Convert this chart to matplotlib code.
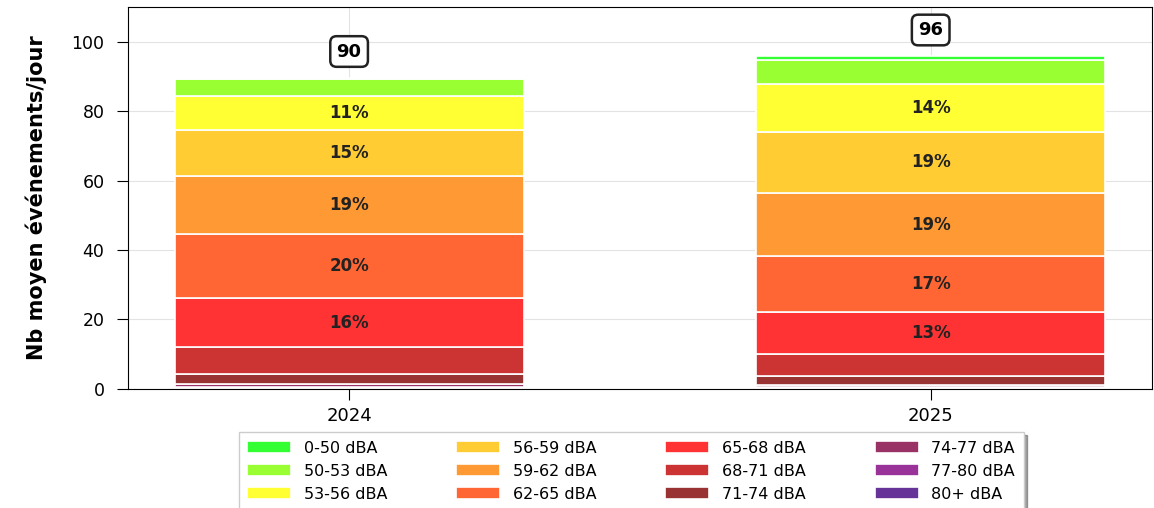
import matplotlib
matplotlib.use("Agg")
import matplotlib.pyplot as plt
import numpy as np

years = ["2024", "2025"]
classes = ["0-50 dBA", "50-53 dBA", "53-56 dBA", "56-59 dBA", "59-62 dBA", "62-65 dBA",
           "65-68 dBA", "68-71 dBA", "71-74 dBA", "74-77 dBA", "77-80 dBA", "80+ dBA"]
colors = ["#33ff33", "#99ff33", "#ffff33", "#ffcc33", "#ff9933", "#ff6633",
          "#ff3333", "#cc3333", "#993333", "#993366", "#993399", "#663399"]

# average events per day by noise class (0-50 first ... 80+ last)
vals_2024 = [0.5, 4.7, 9.9, 13.3, 16.8, 18.3, 14.3, 7.8, 2.8, 0.9, 0.3, 0.1]
vals_2025 = [1.1, 7.0, 13.7, 17.8, 18.0, 16.2, 12.2, 6.2, 2.7, 0.6, 0.3, 0.1]
data = np.array([vals_2024, vals_2025])

fig = plt.figure(figsize=(11.54, 5.08), dpi=100)
ax = fig.add_axes([0.111, 0.235, 0.887, 0.751])

x = np.arange(len(years))
width = 0.6
totals = data.sum(axis=1)

# stack from the loudest class at the bottom to the quietest on top
bottom = np.zeros(len(years))
for i in range(len(classes) - 1, -1, -1):
    seg = data[:, i]
    ax.bar(x, seg, width, bottom=bottom, color=colors[i], edgecolor="white",
           linewidth=1.2, label=classes[i], zorder=2)
    for j in range(len(years)):
        pct = seg[j] / totals[j] * 100
        if pct >= 10:
            ax.text(x[j], bottom[j] + seg[j] / 2, f"{pct:.0f}%", ha="center", va="center",
                    fontsize=12, fontweight="bold", color="#222222", zorder=3)
    bottom += seg

for j in range(len(years)):
    ax.text(x[j], totals[j] + 7.5, f"{totals[j]:.0f}", ha="center", va="center",
            fontsize=13, fontweight="bold", zorder=3,
            bbox=dict(boxstyle="round,pad=0.35", fc="white", ec="#222222", lw=1.8))

ax.set_xlim(-0.38, 1.38)
ax.set_ylim(0, 110)
ax.set_xticks(x)
ax.set_xticklabels(years, fontsize=13)
ax.set_yticks([0, 20, 40, 60, 80, 100])
ax.tick_params(axis="y", labelsize=12.5, length=8, pad=9)
ax.tick_params(axis="x", length=8, pad=5)
ax.set_ylabel("Nb moyen événements/jour", fontsize=15, fontweight="bold")
ax.yaxis.set_label_coords(-0.079, 0.5)
ax.grid(True, color="#e3e3e3", linewidth=0.8, zorder=0)
ax.set_axisbelow(True)

handles, labels = ax.get_legend_handles_labels()
handles, labels = handles[::-1], labels[::-1]
leg = fig.legend(handles, labels, loc="upper center", bbox_to_anchor=(0.547, 0.150),
                 borderaxespad=0, ncol=4, fontsize=11.5, frameon=True, shadow=True,
                 fancybox=False, handlelength=2.75, handleheight=0.85, handletextpad=0.8,
                 columnspacing=4.3, labelspacing=0.5, borderpad=0.55)
leg.get_frame().set_edgecolor("#cccccc")

fig.savefig("out.png", dpi=100)
